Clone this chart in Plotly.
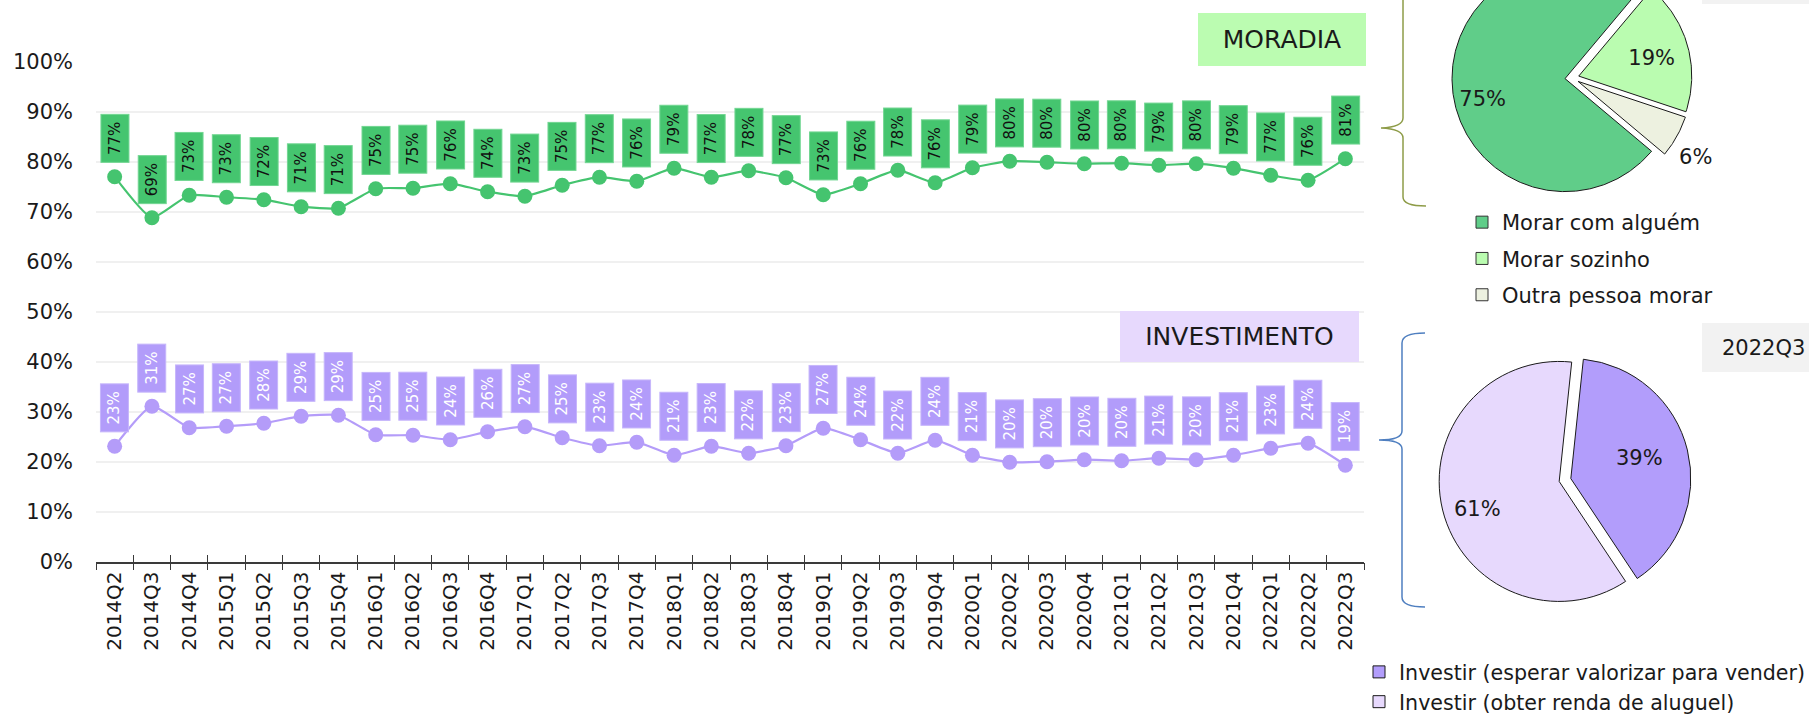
import math
import plotly.graph_objects as go

W, H = 1809, 718
FONT = "DejaVu Sans"
TXT = "#1a1a1a"

# ---------------- data ----------------
quarters = ["2014Q2", "2014Q3", "2014Q4",
            "2015Q1", "2015Q2", "2015Q3", "2015Q4",
            "2016Q1", "2016Q2", "2016Q3", "2016Q4",
            "2017Q1", "2017Q2", "2017Q3", "2017Q4",
            "2018Q1", "2018Q2", "2018Q3", "2018Q4",
            "2019Q1", "2019Q2", "2019Q3", "2019Q4",
            "2020Q1", "2020Q2", "2020Q3", "2020Q4",
            "2021Q1", "2021Q2", "2021Q3", "2021Q4",
            "2022Q1", "2022Q2", "2022Q3"]
moradia = [77.0, 68.8, 73.3, 72.9, 72.4, 71.0, 70.7, 74.6, 74.7, 75.6, 74.0,
           73.1, 75.3, 76.9, 76.1, 78.7, 76.9, 78.2, 76.8, 73.4, 75.6, 78.3,
           75.8, 78.8, 80.1, 79.9, 79.6, 79.7, 79.3, 79.6, 78.7, 77.3, 76.3, 80.6]
investimento = [23.1, 31.1, 26.8, 27.1, 27.7, 29.1, 29.3, 25.4, 25.3, 24.4, 26.0,
                27.0, 24.8, 23.2, 23.9, 21.3, 23.1, 21.7, 23.2, 26.7, 24.4, 21.7,
                24.3, 21.3, 19.9, 20.0, 20.4, 20.2, 20.7, 20.4, 21.3, 22.7, 23.7, 19.3]
y_ticks = [0, 10, 20, 30, 40, 50, 60, 70, 80, 90, 100]

moradia_pie_labels = ["Morar com alguém", "Morar sozinho", "Outra pessoa morar"]
moradia_pie_values = [75, 19, 6]
invest_pie_labels = ["Investir (esperar valorizar para vender)",
                     "Investir (obter renda de aluguel)"]
invest_pie_values = [39, 61]
period_label = "2022Q3"

# ---------------- style ----------------
GREEN_LINE = "#45c46f"
GREEN_BOX = "#45c56f"
GREEN_BOX_EDGE = "#72d692"
PURPLE_LINE = "#b49cf9"
PURPLE_BOX = "#b29cfa"
PURPLE_BOX_EDGE = "#c6b6fb"
MORADIA_PIE_COLORS = ["#60cd89", "#bafcb0", "#edf1e0"]
INVEST_PIE_COLORS = ["#b29dfb", "#e7d9fd"]
PERIOD_BG = "#f2f2f2"


def pxx(px):
    return px / W


def pxy(py):
    return 1 - py / H


X_L, X_R = 96, 1364       # plot area (px)
Y_T, Y_B = 61.7, 561.7

fig = go.Figure()

# ---------------- line chart ----------------
fig.add_trace(go.Scatter(
    x=quarters, y=moradia, mode="lines+markers", name="MORADIA",
    line=dict(color=GREEN_LINE, width=2.2, shape="spline", smoothing=0.5),
    marker=dict(color=GREEN_LINE, size=15), showlegend=False, hoverinfo="x+y"))
fig.add_trace(go.Scatter(
    x=quarters, y=investimento, mode="lines+markers", name="INVESTIMENTO",
    line=dict(color=PURPLE_LINE, width=2.2, shape="spline", smoothing=0.5),
    marker=dict(color=PURPLE_LINE, size=15), showlegend=False, hoverinfo="x+y"))
# carrier trace for the overlay axis that draws the inner half of the cross ticks
fig.add_trace(go.Scatter(x=quarters, y=moradia, mode="none", xaxis="x2",
                         showlegend=False, hoverinfo="skip"))

annotations = []
for q, v in zip(quarters, moradia):
    annotations.append(dict(
        x=q, y=v, xref="x", yref="y", text=f"{v:.0f}%", showarrow=False,
        textangle=-90, xanchor="center", yanchor="bottom", yshift=14,
        bgcolor=GREEN_BOX, bordercolor=GREEN_BOX_EDGE, borderwidth=1, borderpad=1,
        width=45, height=25, font=dict(family=FONT, size=15, color="#111111")))
for q, v in zip(quarters, investimento):
    annotations.append(dict(
        x=q, y=v, xref="x", yref="y", text=f"{v:.0f}%", showarrow=False,
        textangle=-90, xanchor="center", yanchor="bottom", yshift=14,
        bgcolor=PURPLE_BOX, bordercolor=PURPLE_BOX_EDGE, borderwidth=1, borderpad=1,
        width=45, height=25, font=dict(family=FONT, size=15, color="#ffffff")))

# section titles
annotations.append(dict(
    x=pxx(1282), y=pxy(39.5), xref="paper", yref="paper", text="MORADIA",
    xanchor="center", yanchor="middle",
    showarrow=False, bgcolor="#bbfcb1", bordercolor="#bbfcb1", borderwidth=1,
    borderpad=0, width=166, height=51, font=dict(family=FONT, size=25, color=TXT)))
annotations.append(dict(
    x=pxx(1239.5), y=pxy(336.5), xref="paper", yref="paper", text="INVESTIMENTO",
    xanchor="center", yanchor="middle",
    showarrow=False, bgcolor="#e7d9fd", bordercolor="#e7d9fd", borderwidth=1,
    borderpad=0, width=237, height=49, font=dict(family=FONT, size=25, color=TXT)))

# period label next to the lower pie
annotations.append(dict(
    x=pxx(1720), y=pxy(347.5), xref="paper", yref="paper", text=period_label,
    showarrow=False, xanchor="left", yanchor="middle",
    font=dict(family=FONT, size=21, color=TXT)))

# ---------------- top pie (clipped by the top edge of the figure) ----------------
P1_CX, P1_CY, P1_R = 1572, 78, 113
P1_ROT, P1_PULL = 130, 0.062
P1_LABEL_R = [0.755, 0.66, 1.244]     # label distance (fraction of radius)
P1_LABEL_DA = [-10, 3.5, 4]           # label angle offset from slice middle (deg)
X3_DOM = (1430, 1730)
Y3_DOM = (0, 215)
x3_range = [(X3_DOM[0] - P1_CX) / P1_R, (X3_DOM[1] - P1_CX) / P1_R]
y3_range = [-(Y3_DOM[1] - P1_CY) / P1_R, (P1_CY - Y3_DOM[0]) / P1_R]

total1 = sum(moradia_pie_values)
ang = P1_ROT
p1_text_x, p1_text_y, p1_text = [], [], []
for lab, v, col, lr, da in zip(moradia_pie_labels, moradia_pie_values,
                               MORADIA_PIE_COLORS, P1_LABEL_R, P1_LABEL_DA):
    span = v / total1 * 360
    a0 = ang
    mid = math.radians(a0 + span / 2)
    ox, oy = P1_PULL * math.sin(mid), P1_PULL * math.cos(mid)
    n = max(12, int(span * 1.5))
    xs, ys = [ox], [oy]
    for k in range(n + 1):
        t = math.radians(a0 + span * k / n)
        xs.append(ox + math.sin(t))
        ys.append(oy + math.cos(t))
    xs.append(ox)
    ys.append(oy)
    fig.add_trace(go.Scatter(
        x=xs, y=ys, mode="lines", fill="toself", fillcolor=col,
        line=dict(color="#1a1a1a", width=1), xaxis="x3", yaxis="y3",
        showlegend=False, hoverinfo="skip", name=lab))
    la = mid + math.radians(da)
    p1_text_x.append(ox + lr * math.sin(la))
    p1_text_y.append(oy + lr * math.cos(la))
    p1_text.append(f"{v:.0f}%")
    ang += span

fig.add_trace(go.Scatter(
    x=p1_text_x, y=p1_text_y, text=p1_text, mode="text", xaxis="x3", yaxis="y3",
    textfont=dict(family=FONT, size=21, color=TXT), cliponaxis=False,
    showlegend=False, hoverinfo="skip"))

# legend entries of the top pie
for i, (lab, col) in enumerate(zip(moradia_pie_labels, MORADIA_PIE_COLORS)):
    fig.add_trace(go.Scatter(
        x=[None], y=[None], mode="markers", name=lab, xaxis="x3", yaxis="y3",
        marker=dict(symbol="square", size=12, color=col,
                    line=dict(color="#333333", width=1)),
        legend="legend", legendgroup=f"g{i}", showlegend=True))

# ---------------- bottom pie ----------------
P2_CX, P2_CY, P2_R, P2_PULL, P2_ROT = 1565, 480, 120, 0.05, 6
P2_LABEL_R = [0.60, 0.715]
P2_LABEL_DA = [-3, -5]
half = P2_R * (1 + P2_PULL)
fig.add_trace(go.Pie(
    labels=invest_pie_labels, values=invest_pie_values, sort=False,
    direction="clockwise", rotation=P2_ROT, pull=[P2_PULL] * len(invest_pie_values),
    marker=dict(colors=INVEST_PIE_COLORS, line=dict(color="#1a1a1a", width=1)),
    textinfo="none", hoverinfo="label+percent", legend="legend2",
    domain=dict(x=[pxx(P2_CX - half), pxx(P2_CX + half)],
                y=[pxy(P2_CY + half), pxy(P2_CY - half)])))

total2 = sum(invest_pie_values)
ang = P2_ROT
for v, lr, da in zip(invest_pie_values, P2_LABEL_R, P2_LABEL_DA):
    span = v / total2 * 360
    mid = math.radians(ang + span / 2)
    cx = P2_CX + P2_PULL * P2_R * math.sin(mid)
    cy = P2_CY - P2_PULL * P2_R * math.cos(mid)
    la = mid + math.radians(da)
    annotations.append(dict(
        x=pxx(cx + lr * P2_R * math.sin(la)), y=pxy(cy - lr * P2_R * math.cos(la)),
        xref="paper", yref="paper", text=f"{v:.0f}%", showarrow=False,
        xanchor="center", yanchor="middle",
        font=dict(family=FONT, size=21, color=TXT)))
    ang += span


# ---------------- braces & period boxes ----------------
def brace_path(pts):
    out = []
    for cmd, coords in pts:
        c = []
        for j in range(0, len(coords), 2):
            c.append(f"{pxx(coords[j]):.5f},{pxy(coords[j + 1]):.5f}")
        out.append(cmd + " " + " ".join(c))
    return " ".join(out)


top_brace = brace_path([
    ("M", [1403, -20]), ("L", [1403, 118]), ("Q", [1403, 127, 1381, 128]),
    ("Q", [1403, 129, 1403, 138]), ("L", [1403, 197]),
    ("Q", [1403, 206, 1426, 206])])
bot_brace = brace_path([
    ("M", [1425, 333]), ("Q", [1402, 333, 1402, 343]), ("L", [1402, 431]),
    ("Q", [1402, 440, 1379, 440]), ("Q", [1402, 440, 1402, 449]),
    ("L", [1402, 597]), ("Q", [1402, 607, 1425, 607])])

shapes = [
    dict(type="rect", xref="paper", yref="paper", x0=pxx(1702), x1=pxx(1830),
         y0=pxy(4), y1=pxy(-40), fillcolor=PERIOD_BG, line=dict(width=0),
         layer="below"),
    dict(type="rect", xref="paper", yref="paper", x0=pxx(1702), x1=pxx(1830),
         y0=pxy(372), y1=pxy(323), fillcolor=PERIOD_BG, line=dict(width=0),
         layer="below"),
    dict(type="path", path=top_brace, xref="paper", yref="paper",
         line=dict(color="#8e9c48", width=1.5)),
    dict(type="path", path=bot_brace, xref="paper", yref="paper",
         line=dict(color="#4f7fc0", width=1.5)),
]

# ---------------- layout ----------------
xdom = [pxx(X_L), pxx(X_R)]
fig.update_layout(
    width=W, height=H,
    margin=dict(l=0, r=0, t=0, b=0, autoexpand=False),
    paper_bgcolor="white", plot_bgcolor="white",
    font=dict(family=FONT, size=21, color=TXT),
    xaxis=dict(
        type="category", categoryorder="array", categoryarray=quarters,
        range=[-0.5, len(quarters) - 0.5], domain=xdom, anchor="y",
        showline=True, linecolor="#3a3a3a", linewidth=1.5,
        ticks="outside", tickson="boundaries", ticklen=7, tickwidth=1.2,
        tickcolor="#3a3a3a", tickangle=-90, showgrid=False, zeroline=False,
        automargin=False,
        tickfont=dict(family=FONT, size=20, color=TXT)),
    xaxis2=dict(
        type="category", categoryorder="array", categoryarray=quarters,
        range=[-0.5, len(quarters) - 0.5], overlaying="x", anchor="y",
        ticks="inside", tickson="boundaries", ticklen=7, tickwidth=1.2,
        tickcolor="#3a3a3a", showticklabels=False, showgrid=False,
        showline=False, zeroline=False, automargin=False),
    yaxis=dict(
        range=[0, 100], domain=[pxy(Y_B), pxy(Y_T)], tickvals=y_ticks,
        ticktext=[f"{t}%" for t in y_ticks], showgrid=True,
        gridcolor="#f0f0f0", gridwidth=1.5, zeroline=False, showline=False,
        ticks="", ticklabelstandoff=22, automargin=False,
        tickfont=dict(family=FONT, size=21, color=TXT)),
    xaxis3=dict(domain=[pxx(X3_DOM[0]), pxx(X3_DOM[1])], range=x3_range,
                visible=False, anchor="y3", fixedrange=True, automargin=False),
    yaxis3=dict(domain=[pxy(Y3_DOM[1]), pxy(Y3_DOM[0])], range=y3_range,
                visible=False, anchor="x3", fixedrange=True, automargin=False),
    legend=dict(x=pxx(1462), y=pxy(202), xanchor="left", yanchor="top",
                font=dict(family=FONT, size=21, color=TXT), tracegroupgap=6,
                bgcolor="rgba(0,0,0,0)"),
    legend2=dict(x=pxx(1359), y=pxy(652), xanchor="left", yanchor="top",
                 font=dict(family=FONT, size=20.6, color=TXT),
                 bgcolor="rgba(0,0,0,0)"),
    annotations=annotations,
    shapes=shapes,
    showlegend=True,
)

# the page body has a default 8px margin; remove it so the figure sits at (0, 0)
fig.write_html("out.html", config={"displayModeBar": False},
               post_script="document.body.style.margin='0px';")
